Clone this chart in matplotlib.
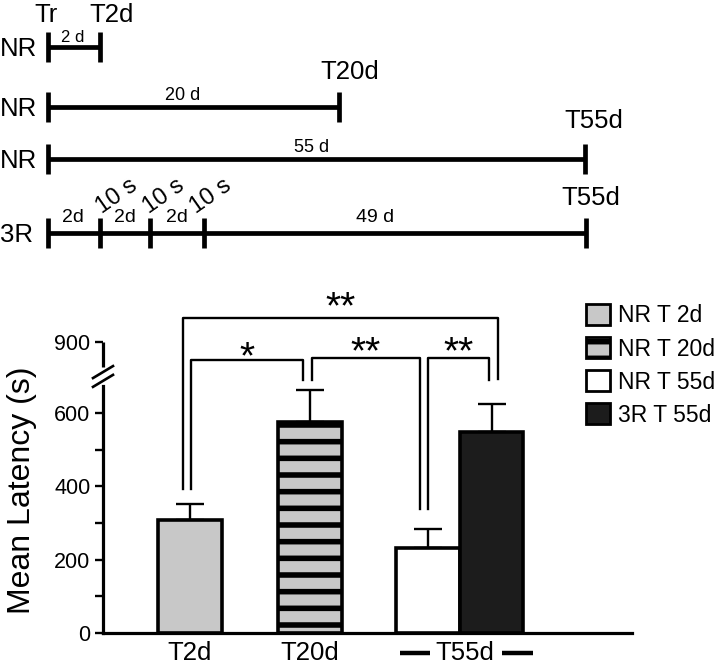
import matplotlib
matplotlib.use('Agg')
import matplotlib.pyplot as plt
import matplotlib.transforms as mtransforms
from matplotlib.patches import Patch

plt.rcParams['font.family'] = ['Liberation Sans', 'DejaVu Sans']
plt.rcParams['hatch.linewidth'] = 4.0
plt.rcParams['hatch.color'] = 'black'

# bar data
groups = ['T2d', 'T20d', 'T55d']
series = ['NR T 2d', 'NR T 20d', 'NR T 55d', '3R T 55d']
latency = [308, 575, 232, 548]
sem = [43, 87, 51, 76]

# significance marks between bars
pairs = [(0, 3), (0, 1), (1, 2), (2, 3)]
marks = ['**', '*', '**', '**']

# timeline schema
tl_groups = ['NR', 'NR', 'NR', '3R']
tl_spans = [['2 d'], ['20 d'], ['55 d'], ['2d', '2d', '2d', '49 d']]
tl_ends = ['T2d', 'T20d', 'T55d', 'T55d']

W, H = 720, 667
fig = plt.figure(figsize=(W / 100, H / 100), dpi=100)

# ---- top schematic, drawn in pixel coordinates ----
tl = fig.add_axes([0, 0, 1, 1])
tl.set_xlim(0, W)
tl.set_ylim(H, 0)
tl.axis('off')

row_y = [47, 107, 159, 233]
row_ticks = [[48, 100], [48, 339], [48, 585], [48, 100, 150, 204, 586]]
span_x = [[73], [183], [312], [73, 125, 177, 375]]
span_dy = [-10, -12, -12, -15]
span_fs = [12, 13, 13, 14]
end_dx = [12, 11, 9, 5]
end_y = [15, 72, 121, 198]

for r in range(4):
    y = row_y[r]
    xs = row_ticks[r]
    tl.plot([xs[0], xs[-1]], [y, y], color='black', lw=3.4, solid_capstyle='butt')
    for x in xs:
        tl.plot([x, x], [y - 15, y + 15], color='black', lw=3.4, solid_capstyle='butt')
    tl.text(0, y + 2, tl_groups[r], ha='left', va='center', fontsize=18.5)
    for lab, sx in zip(tl_spans[r], span_x[r]):
        tl.text(sx, y + span_dy[r], lab, ha='center', va='center', fontsize=span_fs[r])
    tl.text(xs[-1] + end_dx[r], end_y[r], tl_ends[r], ha='center', va='center', fontsize=18.5)

tl.text(46, 15, 'Tr', ha='center', va='center', fontsize=18.5)
for x in [117, 164, 211]:
    tl.text(x, 196, '10 s', ha='center', va='center', fontsize=17, rotation=35)

# ---- bar chart ----
ax = fig.add_axes([103 / W, (H - 633) / H, (632 - 103) / W, (633 - 280) / H])
ax.set_xlim((103 - 190) / 120, (632 - 190) / 120)
ax.set_ylim(0, 353 / 0.367)

bar_x = [0, 1, 1.983, 2.513]
colors = ['#c8c8c8', '#c8c8c8', 'white', '#1c1c1c']
hatches = ['', '-', '', '']

bars = ax.bar(bar_x, latency, 0.53, color=colors, edgecolor='black', linewidth=2.6, zorder=3)
for b, h in zip(bars, hatches):
    b.set_hatch(h)
ax.errorbar(bar_x, latency, yerr=[[0] * 4, sem], fmt='none', ecolor='black',
            elinewidth=1.7, capsize=10, capthick=1.7, zorder=2)

# broken y axis: 900 drawn at the break-compressed position
top_tick = 793
ax.set_yticks([0, 200, 400, 600, top_tick], labels=['0', '200', '400', '600', '900'])
ax.set_yticks([100, 300, 500], minor=True)
ax.tick_params(axis='y', which='both', length=6, width=1.7, labelsize=15.5, pad=3)
ax.set_xticks([0, 1, 2.29], labels=groups)
ax.tick_params(axis='x', length=0, labelsize=18.5, pad=6)

for s in ['top', 'right']:
    ax.spines[s].set_visible(False)
ax.spines['left'].set_linewidth(2.3)
ax.spines['bottom'].set_linewidth(2.3)
ax.spines['left'].set_bounds(0, 673)
xl = ax.get_xlim()[0]
ax.plot([xl, xl], [725, top_tick], color='black', lw=2.3, clip_on=False, solid_capstyle='butt')
for yc in [687, 711]:
    ax.plot([xl - 10 / 120, xl + 10 / 120], [yc - 6 / 0.367, yc + 6 / 0.367],
            color='black', lw=1.9, clip_on=False)

# dashes round the T55d label
trans = mtransforms.blended_transform_factory(ax.transData, ax.transAxes)
for x1, x2 in [(1.75, 2.0), (2.6, 2.858)]:
    ax.plot([x1, x2], [-0.057, -0.057], color='black', lw=3.2, transform=trans,
            clip_on=False, solid_capstyle='butt')

# significance brackets
br_top = [858, 744, 749, 749]
br_dx = [(-0.06, 0.05), (0.01, -0.06), (0.02, -0.07), (0.0, -0.02)]
br_legs = [(392, 692), (392, 689), (689, 338), (338, 689)]
br_text = [858, 722, 736, 736]
for (i, j), m, yt, (dl, dr), (lb, rb), ty in zip(pairs, marks, br_top, br_dx, br_legs, br_text):
    xa = bar_x[i] + dl
    xb = bar_x[j] + dr
    ax.plot([xa, xa, xb, xb], [lb, yt, yt, rb], color='black', lw=1.7, clip_on=False)
    ax.text((xa + xb) / 2, ty, m, ha='center', va='baseline', fontsize=28)

fig.text(22 / W, 1 - 490 / H, 'Mean Latency (s)', rotation=90, ha='center', va='center',
         fontsize=23)

handles = [Patch(facecolor=c, edgecolor='black', linewidth=2, hatch=h, label=s)
           for c, h, s in zip(colors, hatches, series)]
fig.legend(handles=handles, loc='upper left', bbox_to_anchor=(586 / W, 1 - 304 / H),
           frameon=False, fontsize=16.5, handlelength=1.05, handleheight=1.05,
           handletextpad=0.35, labelspacing=0.42, borderpad=0, borderaxespad=0)

fig.savefig('out.png', dpi=100)
